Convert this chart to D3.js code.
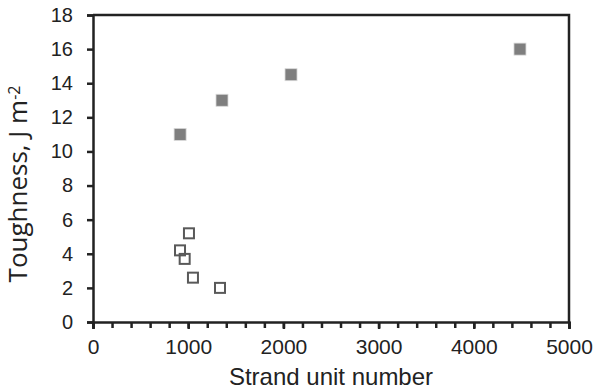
<!DOCTYPE html>
<html lang="en">
<head>
<meta charset="UTF-8">
<title>Toughness vs strand unit number</title>
<script src="https://d3js.org/d3.v7.min.js"></script>
<style>
  body { margin: 0; background: #fff; }
  .tick text { font-family: "Liberation Sans", Arial, sans-serif; fill: #222; }
  .axis-title { font-family: "Liberation Sans", Arial, sans-serif; fill: #222; }
  .y-title { font-family: "Open Sans", "Noto Sans", sans-serif; fill: #222; }
</style>
</head>
<body>
<div id="chart"></div>
<script>
  // series: filled squares
  const filledX = [915, 1355, 2080, 4485];
  const filledY = [11, 13, 14.5, 16];
  // series: open squares
  const openX = [1008, 914, 963, 1050, 1334];
  const openY = [5.2, 4.2, 3.7, 2.6, 2.0];

  const xTicks = [0, 1000, 2000, 3000, 4000, 5000];
  const yTicks = [0, 2, 4, 6, 8, 10, 12, 14, 16, 18];

  const W = 596, H = 391;
  const margin = { top: 15, right: 27, bottom: 69, left: 93 };
  const width = W - margin.left - margin.right;
  const height = H - margin.top - margin.bottom;

  const svg = d3.select("#chart").append("svg")
    .attr("width", W).attr("height", H);
  const g = svg.append("g")
    .attr("transform", `translate(${margin.left},${margin.top})`);

  const x = d3.scaleLinear().domain([0, 5000]).range([0, width]);
  const y = d3.scaleLinear().domain([0, 18]).range([height, 0]);

  // frame (top + right)
  g.append("path")
    .attr("d", `M0,0H${width}V${height}`)
    .attr("fill", "none").attr("stroke", "#222").attr("stroke-width", 2.5);

  // minor x ticks
  const xMinor = g.append("g")
    .attr("transform", `translate(0,${height})`)
    .call(d3.axisBottom(x).tickValues(d3.range(0, 5001, 200)).tickSize(6).tickFormat(""));
  xMinor.select(".domain").remove();
  xMinor.selectAll("line").attr("stroke", "#222").attr("stroke-width", 2.5);

  const xAxis = g.append("g")
    .attr("transform", `translate(0,${height})`)
    .call(d3.axisBottom(x).tickValues(xTicks).tickSize(7).tickPadding(10).tickFormat(d3.format("d")));
  xAxis.select(".domain").attr("stroke", "#222").attr("stroke-width", 2.5);
  xAxis.selectAll("line").attr("stroke", "#222").attr("stroke-width", 2.5);
  xAxis.selectAll("text").style("font-size", "21px");

  const yAxis = g.append("g")
    .call(d3.axisLeft(y).tickValues(yTicks).tickSize(6).tickPadding(14));
  yAxis.select(".domain").attr("stroke", "#222").attr("stroke-width", 2.5);
  yAxis.selectAll("line").attr("stroke", "#222").attr("stroke-width", 2.5);
  yAxis.selectAll("text").style("font-size", "20px");

  const filled = filledX.map((v, i) => ({ x: v, y: filledY[i] }));
  const open = openX.map((v, i) => ({ x: v, y: openY[i] }));
  const s = 12;

  g.selectAll(".filled").data(filled).enter().append("rect")
    .attr("class", "filled")
    .attr("x", d => x(d.x) - s / 2).attr("y", d => y(d.y) - s / 2)
    .attr("width", s).attr("height", s)
    .attr("fill", "#7f7f7f").attr("stroke", "#d9d9d9").attr("stroke-width", 0.8);

  g.selectAll(".open").data(open).enter().append("rect")
    .attr("class", "open")
    .attr("x", d => x(d.x) - s / 2 + 1).attr("y", d => y(d.y) - s / 2 + 1)
    .attr("width", s - 2).attr("height", s - 2)
    .attr("fill", "none").attr("stroke", "#595959").attr("stroke-width", 2);

  svg.append("text")
    .attr("class", "axis-title")
    .attr("x", margin.left + width / 2).attr("y", 385)
    .attr("text-anchor", "middle")
    .style("font-size", "24px")
    .text("Strand unit number");

  const yt = svg.append("text")
    .attr("class", "y-title")
    .attr("transform", "translate(27,184) rotate(-90)")
    .attr("text-anchor", "middle")
    .style("font-size", "26px");
  yt.append("tspan").text("Toughness, J m");
  yt.append("tspan").attr("dy", "-0.45em").style("font-size", "16px").text("-2");
</script>
</body>
</html>
